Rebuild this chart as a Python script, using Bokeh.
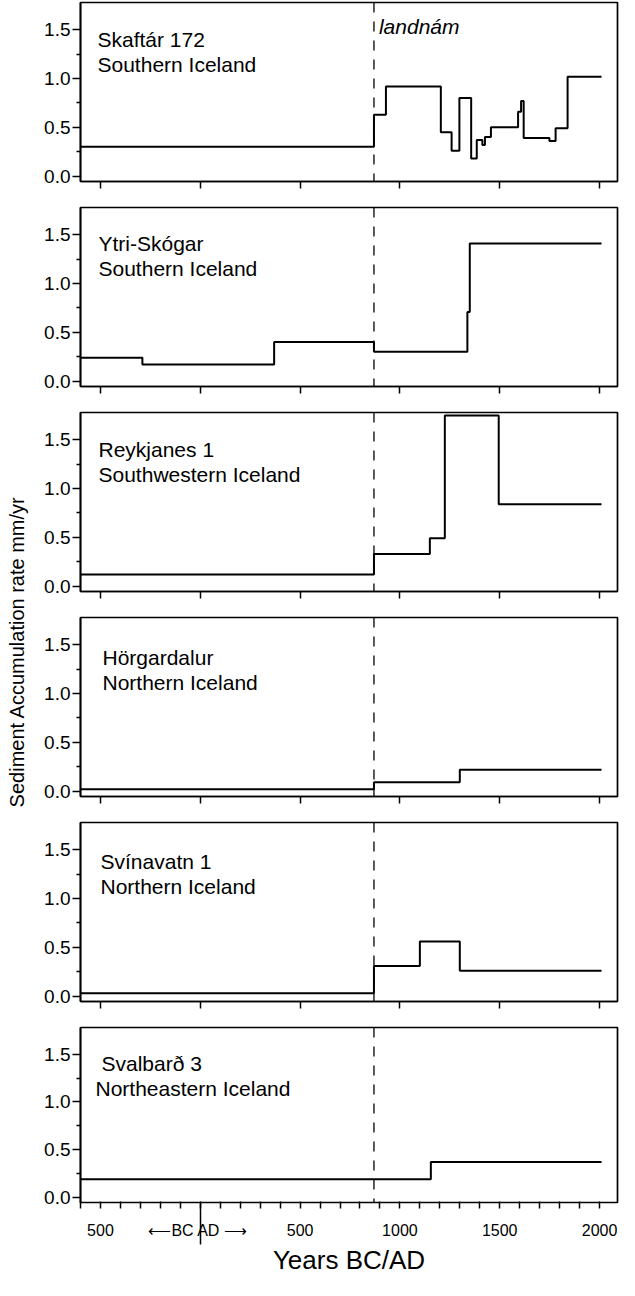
import numpy as np
from bokeh.plotting import figure
from bokeh.layouts import column, row
from bokeh.models import Range1d, FixedTicker, Label, Span, LinearAxis, NumeralTickFormatter
from bokeh.embed import file_html
from bokeh.resources import INLINE

# ---------------- data ----------------
site_names = ["Skaftár 172", "Ytri-Skógar", "Reykjanes 1", "Hörgardalur", "Svínavatn 1", "Svalbarð 3"]
site_regions = ["Southern Iceland", "Southern Iceland", "Southwestern Iceland",
                "Northern Iceland", "Northern Iceland", "Northeastern Iceland"]

# step boundaries (years, BC negative) and accumulation rates (mm/yr)
skaftar_edges = [-600, 870, 930, 1205, 1259, 1298, 1357, 1385, 1413, 1426, 1456, 1592, 1607, 1620, 1749, 1780, 1840, 2010]
skaftar_rates = [0.30, 0.63, 0.92, 0.45, 0.26, 0.80, 0.18, 0.37, 0.32, 0.40, 0.50, 0.66, 0.77, 0.39, 0.36, 0.49, 1.02]

ytri_edges = [-600, -290, 370, 870, 1338, 1350, 2010]
ytri_rates = [0.24, 0.17, 0.40, 0.30, 0.71, 1.41]

reykjanes_edges = [-600, 870, 1150, 1225, 1495, 2010]
reykjanes_rates = [0.12, 0.33, 0.49, 1.75, 0.84]

horgardalur_edges = [-600, 870, 1300, 2010]
horgardalur_rates = [0.02, 0.09, 0.22]

svinavatn_edges = [-600, 870, 1100, 1300, 2010]
svinavatn_rates = [0.03, 0.31, 0.56, 0.26]

svalbard_edges = [-600, 1155, 2010]
svalbard_rates = [0.19, 0.37]

landnam_year = 870
x_major_ticks = [-500, 0, 500, 1000, 1500, 2000]
x_minor_ticks = [-600, -400, -300, -200, -100, 100, 200, 300, 400, 600, 700, 800, 900,
                 1100, 1200, 1300, 1400, 1600, 1700, 1800, 1900]
x_tick_labels = {-500: "500", 0: "⟵BC  AD ⟶", 500: "500", 1000: "1000", 1500: "1500", 2000: "2000"}
y_major_ticks = [0.0, 0.5, 1.0, 1.5]
y_minor_ticks = [0.25, 0.75, 1.25]

edges_all = [skaftar_edges, ytri_edges, reykjanes_edges, horgardalur_edges, svinavatn_edges, svalbard_edges]
rates_all = [skaftar_rates, ytri_rates, reykjanes_rates, horgardalur_rates, svinavatn_rates, svalbard_rates]

# ---------------- style ----------------
FONT = "Liberation Sans"
X0, X1 = -600, 2090
Y0, Y1 = -0.055, 1.78
PW = 587
ML, MR, MT = 48, 2, 2
FRAME_H = 179
TICK = 7
BAR_LEN = 42          # long BC|AD divider below the bottom axis
BAR_AXIS = BAR_LEN + 1
BOT_BORDER = 71
TOP_H = MT + FRAME_H + 24
BOT_H = MT + FRAME_H + BOT_BORDER
FRAME_W = PW - ML - MR
SX = FRAME_W / (X1 - X0)
SY = FRAME_H / (Y1 - Y0)

title_left = [17, 18, 18, 22, 20, 21]
title2_left = [17, 18, 18, 22, 20, 15]
title_base = [37, 36, 37, 40, 39, 37]

panels = []
n = len(site_names)
for i in range(n):
    bottom = (i == n - 1)
    p = figure(width=PW, height=BOT_H if bottom else TOP_H,
               x_range=Range1d(X0, X1), y_range=Range1d(Y0, Y1),
               toolbar_location=None, output_backend="svg",
               x_axis_location=None,
               min_border_left=ML, min_border_right=MR, min_border_top=MT,
               min_border_bottom=(BOT_BORDER if bottom else 24))
    p.background_fill_color = "white"
    p.border_fill_color = "white"
    p.outline_line_color = "black"
    p.outline_line_width = 1.7
    p.outline_line_alpha = 1.0
    p.grid.visible = False

    xs = list(edges_all[i])
    ys = list(rates_all[i]) + [rates_all[i][-1]]
    p.step(xs, ys, mode="after", line_color="black", line_width=2.0)

    p.add_layout(Span(location=landnam_year, dimension="height", line_color="black",
                      line_width=1.3, line_dash="10 9"))

    # y axis
    ya = p.yaxis[0]
    ya.ticker = FixedTicker(ticks=y_major_ticks, minor_ticks=y_minor_ticks)
    ya.formatter = NumeralTickFormatter(format="0.0")
    ya.axis_line_width = 1.7
    ya.major_tick_line_width = 1.5
    ya.minor_tick_line_width = 1.5
    ya.major_tick_out = 8
    ya.major_tick_in = 0
    ya.minor_tick_out = 4
    ya.minor_tick_in = 0
    ya.major_label_standoff = 2
    ya.major_label_text_font = FONT
    ya.major_label_text_font_size = "19px"
    ya.major_label_text_color = "black"

    if bottom:
        # nearest axis: only the long BC|AD divider at year 0
        bar_ax = LinearAxis(ticker=FixedTicker(ticks=[0], minor_ticks=[]),
                            major_label_overrides={0: ""},
                            major_label_text_font_size="1px",
                            major_label_standoff=0,
                            axis_line_color=None,
                            major_tick_in=0, major_tick_out=BAR_LEN,
                            major_tick_line_width=1.5, major_tick_line_color="black",
                            minor_tick_line_color=None)
        p.add_layout(bar_ax, "below")
        # main axis: ticks drawn back up at the frame edge, labels and title
        xa = LinearAxis(ticker=FixedTicker(ticks=x_major_ticks, minor_ticks=x_minor_ticks),
                        major_label_overrides=x_tick_labels,
                        major_label_text_font=FONT,
                        major_label_text_font_size="16px",
                        major_label_text_color="black",
                        major_label_standoff=13,
                        axis_line_color=None,
                        major_tick_in=BAR_AXIS, major_tick_out=TICK - BAR_AXIS,
                        minor_tick_in=BAR_AXIS, minor_tick_out=TICK - BAR_AXIS,
                        major_tick_line_width=1.5, minor_tick_line_width=1.5,
                        major_tick_line_color="black", minor_tick_line_color="black",
                        axis_label="Years BC/AD",
                        axis_label_text_font=FONT,
                        axis_label_text_font_size="26px",
                        axis_label_text_font_style="normal",
                        axis_label_text_color="black",
                        axis_label_standoff=3)
        p.add_layout(xa, "below")
    else:
        xa = LinearAxis(ticker=FixedTicker(ticks=x_major_ticks, minor_ticks=[]),
                        major_label_overrides={t: "" for t in x_major_ticks},
                        major_label_text_font_size="1px",
                        axis_line_width=1.7,
                        major_tick_in=0, major_tick_out=TICK,
                        major_tick_line_width=1.5,
                        minor_tick_line_color=None)
        p.add_layout(xa, "below")

    # panel titles
    tx1 = X0 + title_left[i] / SX
    tx2 = X0 + title2_left[i] / SX
    ty1 = Y1 - title_base[i] / SY
    ty2 = Y1 - (title_base[i] + 25) / SY
    p.add_layout(Label(x=tx1, y=ty1, text=site_names[i], text_font=FONT, text_font_size="21px",
                       text_baseline="alphabetic", text_color="black"))
    p.add_layout(Label(x=tx2, y=ty2, text=site_regions[i], text_font=FONT, text_font_size="21px",
                       text_baseline="alphabetic", text_color="black"))
    if i == 0:
        p.add_layout(Label(x=landnam_year + 5 / SX, y=Y1 - 24 / SY, text="landnám",
                           text_font=FONT, text_font_size="21px", text_font_style="italic",
                           text_baseline="alphabetic", text_color="black"))
    panels.append(p)

total_h = TOP_H * (n - 1) + BOT_H
lab = figure(width=32, height=total_h, x_range=Range1d(0, 1), y_range=Range1d(0, 1),
             toolbar_location=None, output_backend="svg", min_border=0)
lab.outline_line_color = None
lab.axis.visible = False
lab.grid.visible = False
lab.background_fill_color = "white"
lab.border_fill_color = "white"
lab.add_layout(Label(x=0.5, y=0.49, text="Sediment Accumulation rate mm/yr", angle=np.pi / 2,
                     text_align="center", text_baseline="middle", text_font=FONT,
                     text_font_size="20px", text_color="black"))

layout = row(lab, column(*panels, spacing=0), spacing=0)
open("out.html", "w").write(file_html(layout, INLINE))
